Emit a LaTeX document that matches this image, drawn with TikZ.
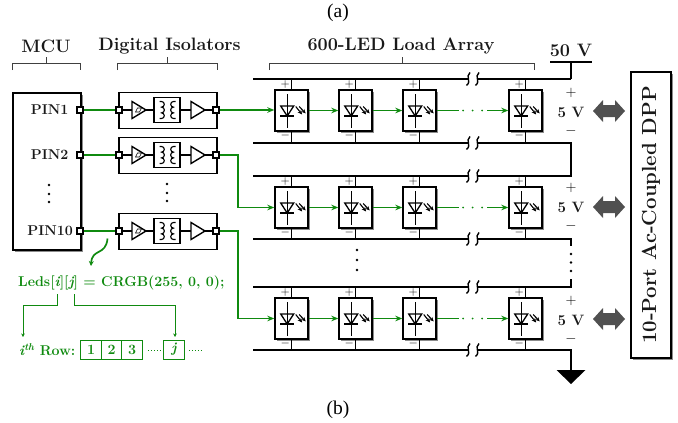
\documentclass[tikz,border=0pt]{standalone}
\usepackage{fontspec}
\newfontfamily\capfont{Liberation Serif}
\usetikzlibrary{arrows.meta,shadows,calc}
\definecolor{gr}{HTML}{0F8A0F}
\definecolor{darrow}{HTML}{505050}
\newcommand{\tsz}{\fontsize{18}{20}\selectfont\bfseries}
\newcommand{\ssz}{\fontsize{14.2}{16}\selectfont\bfseries}
\tikzset{
  x=1pt,y=-1pt,
  shadowbox/.style={draw=black,line width=1.8pt,fill=white,drop shadow={shadow xshift=1.8pt,shadow yshift=-1.8pt,opacity=.45,fill=black}},
  plainbox/.style={draw=black,line width=1.8pt,fill=white,inner sep=0pt},
  pinsq/.style={draw=black,line width=1.6pt,fill=white,minimum size=6.5pt,inner sep=0pt},
  ledbox/.style={shadowbox,minimum width=33pt,minimum height=41.5pt,inner sep=0pt},
  wire/.style={line width=1.4pt,black},
  gwire/.style={line width=1.7pt,gr},
  garrow/.style={gwire,-{Stealth[length=7pt,width=5.5pt]}},
  gthin/.style={line width=1pt,gr},
  gthinarrow/.style={gthin,-{Stealth[length=3.5pt,width=3.5pt]}},
  rail/.style={line width=2.2pt,black},
  brace/.style={line width=1pt,black!75},
  title/.style={font=\tsz,text=black!90,inner sep=0pt},
  pinlabel/.style={font=\ssz,text=black!90,inner sep=0pt},
  arrowbox/.style={draw=gr,line width=1pt,fill=white,minimum width=20.5pt,minimum height=19pt,inner sep=0pt,text=gr,font=\ssz},
  greentext/.style={text=gr,font=\ssz,inner sep=0pt},
  vmark/.style={font=\fontsize{15}{16}\selectfont,inner sep=0pt,text=black},
  capt/.style={font=\capfont\fontsize{19.5}{21}\selectfont,inner sep=0pt},
}
\newcommand{\isolator}[2]{% name, y pin
  \node[plainbox,minimum width=98pt,minimum height=36pt,anchor=west] (#1) at (118,#2+.5) {};
  \node[pinsq] (#1in) at (119,#2) {};
  \node[pinsq] (#1out) at (216,#2) {};
  \coordinate (#1ta) at (132,#2);
  \coordinate (#1tb) at (146,#2);
  \coordinate (#1tc) at (191,#2);
  \coordinate (#1td) at (205,#2);
  \node[plainbox,minimum width=26pt,minimum height=25pt] (#1tr) at (167,#2) {};
  \draw[wire,line join=miter] ($(#1ta)+(0,-8.5)$) -- (#1tb) -- ($(#1ta)+(0,8.5)$) -- cycle;
  \draw[wire,line join=miter] ($(#1tc)+(0,-8.5)$) -- (#1td) -- ($(#1tc)+(0,8.5)$) -- cycle;
  \draw[line width=.6pt] ($(#1ta)+(3.5,2)$) -- ++(4,0) -- ++(2,-4) -- ++(-4,0) -- cycle;
  \draw[wire] (#1in) -- (#1ta) (#1tb) -- (#1tr.west) (#1tr.east) -- (#1tc) (#1td) -- (#1out);
  \draw[line width=1.1pt] ($(#1tr)+(-7.5,-8.5)$) -- ++(2,0) arc[start angle=-90,end angle=90,radius=2.8] arc[start angle=-90,end angle=90,radius=2.9] arc[start angle=-90,end angle=90,radius=2.8] -- ++(-2,0);
  \draw[line width=1.1pt] ($(#1tr)+(8.5,-8.5)$) -- ++(-2,0) arc[start angle=270,end angle=90,radius=2.8] arc[start angle=270,end angle=90,radius=2.9] arc[start angle=270,end angle=90,radius=2.8] -- ++(2,0);
}
\newcommand{\led}[3]{% name, x, ycentre
  \node[ledbox] (#1) at (#2,#3) {};
  \begin{scope}[shift={(#2-4.5,#3)}]
    \draw[line width=1.3pt] (0,-16.5) -- (0,17);
    \draw[line width=1.3pt,line join=miter] (-6.5,-4.5) -- (6.5,-4.5) -- (0,5.5) -- cycle;
    \draw[line width=1.3pt] (-7,5.5) -- (7,5.5);
    \draw[line width=1.1pt,-{Stealth[length=4.5pt,width=4pt]}] (8.5,-4) -- (15,4);
    \draw[line width=1.1pt,-{Stealth[length=4.5pt,width=4pt]}] (12,-4) -- (18.5,3);
  \end{scope}
  \node[vmark,font=\fontsize{12.5}{13}\selectfont] at (#2-6.5,#3-26.5) {$+$};
  \node[vmark,font=\fontsize{12.5}{13}\selectfont] at (#2-6.5,#3+25) {$-$};
}
\newcommand{\railbreak}[1]{% y
  \fill[white] (468.5,#1-1.5) rectangle (476.5,#1+1.5);
  \draw[line width=1.4pt] (470,#1-6.5) .. controls (465,#1-2) and (472,#1+2) .. (466.5,#1+6.5);
  \draw[line width=1.4pt] (479,#1-6.5) .. controls (474,#1-2) and (481,#1+2) .. (475.5,#1+6.5);
}
\newcommand{\vstack}[2]{% x, y centre
  \node[vmark] at (#1,#2-18.5) {$+$};
  \node[font=\fontsize{15}{16}\selectfont\bfseries,text=black!90,inner sep=0pt] at (#1,#2+1) {5 V};
  \node[vmark] at (#1,#2+19.5) {$-$};
}
\begin{document}
\begin{tikzpicture}
\useasboundingbox (0,0) rectangle (678,423);
% captions
\node[capt] (capa) at (338,13) {(a)};
\node[capt] (capb) at (338,410) {(b)};
% titles
\node[title] (tmcu) at (46,46) {MCU};
\node[title] (tiso) at (169.5,46) {Digital Isolators};
\node[title] (tled) at (401,46) {600-LED Load Array};
\node[title] (t50) at (571,50) {50 V};
% brackets
\draw[brace] (12,70) -- (12,63) -- (80,63) -- (80,70) (46,63) -- (46,57);
\draw[brace] (117.5,70) -- (117.5,63) -- (217,63) -- (217,70) (167,63) -- (167,57);
\draw[brace] (269.5,70) -- (269.5,63) -- (534.5,63) -- (534.5,70) (402,63) -- (402,57);
% MCU
\node[shadowbox,minimum width=68pt,minimum height=157pt,anchor=north west,inner sep=0pt] (mcu) at (12,92) {};
\node[pinlabel,anchor=east] (p1) at (68.5,110) {PIN1};
\node[pinlabel,anchor=east] (p2) at (68.5,155) {PIN2};
\node[pinlabel,anchor=east] (p10) at (73,231) {PIN10};
\foreach \yy in {185,194,202}{\fill (49,\yy) circle[radius=1.3];}
\node[pinsq] (m1) at (80,110) {};
\node[pinsq] (m2) at (80,155) {};
\node[pinsq] (m3) at (80,231) {};
% isolators
\isolator{isoa}{110}
\isolator{isob}{155}
\isolator{isoc}{231}
\foreach \yy in {184,193,201}{\fill (167,\yy) circle[radius=1.3];}
\draw[gwire] (m1) -- (isoain);
\draw[gwire] (m2) -- (isobin);
\draw[gwire] (m3) -- (isocin);
% rails
\coordinate (r1a) at (253,79);
\coordinate (r1b) at (571,79);
\coordinate (r2a) at (253,143);
\coordinate (r2b) at (571,143);
\coordinate (r3a) at (253,176);
\coordinate (r3b) at (571,176);
\coordinate (r4a) at (253,239);
\coordinate (r4b) at (571,239);
\coordinate (r5a) at (253,287);
\coordinate (r5b) at (571,287);
\coordinate (r6a) at (253,350);
\coordinate (r6b) at (571,350);
\coordinate (v50) at (571,62);
\coordinate (gnd) at (571,371);
\draw[rail] (550,62) -- (592,62);
\draw[rail] (v50) -- (r1b);
\draw[rail] (r1a) -- (r1b);
\draw[rail,line join=miter] (r2a) -- (r2b) -- (r3b) -- (r3a);
\draw[rail] (r4a) -- (r4b) -- ++(0,7);
\draw[rail] (r5a) -- (r5b) -- ++(0,-8);
\draw[rail] (r6a) -- (r6b) -- (gnd);
\fill (556.5,370) -- (585.5,370) -- (571,384) -- cycle;
\foreach \yy in {254,262.5,271}{\fill (571,\yy) circle[radius=1.3];}
\foreach \yy in {250,260,270}{\fill (357,\yy) circle[radius=1.3];}
\foreach \yy in {79,143,176,239,287,350}{\railbreak{\yy}}
% LEDs
\foreach \r/\yy in {1/110.5,2/207.5,3/318.5}{
  \foreach \c/\xx in {1/291.7,2/355.7,3/419.7,4/525.7}{
    \draw[wire] (\xx,\yy-31) -- (\xx,\yy+32);
    \led{led\r\c}{\xx}{\yy}
  }
  \draw[garrow] (led\r1.east) -- (led\r2.west);
  \draw[garrow] (led\r2.east) -- (led\r3.west);
  \draw[gwire] (led\r3.east) -- ++(22,0);
  \fill[gr] (463,\yy) circle[radius=1] (472.5,\yy) circle[radius=1] (482,\yy) circle[radius=1];
  \draw[garrow] ($(led\r4.west)+(-21,0)$) -- (led\r4.west);
}
% green input lines
\draw[garrow] (isoaout) -- (isoaout -| led11.west);
\draw[garrow] (isobout) -- (238,155) -- (238,207.5) -- (led21.west);
\draw[garrow] (isocout) -- (238,231) -- (238,318.5) -- (led31.west);
% 5 V
\vstack{571}{111.5}
\vstack{571}{206.5}
\vstack{571}{319.5}
% double arrows
\foreach \yy in {111,207,319}{
  \fill[darrow] (593,\yy) -- (603,\yy-11) -- (603,\yy-6) -- (615,\yy-6) -- (615,\yy-11) -- (625,\yy) -- (615,\yy+11) -- (615,\yy+6) -- (603,\yy+6) -- (603,\yy+11) -- cycle;
}
% DPP
\node[shadowbox,minimum width=40pt,minimum height=286pt,inner sep=0pt] (dpp) at (651,215) {};
\node[title,rotate=90,font=\fontsize{20.4}{22}\selectfont\bfseries] (dpplab) at (651,215) {10-Port Ac-Coupled DPP};
% code
\node[greentext,anchor=west] (code) at (18,283) {Leds[{\itshape i}][{\itshape j}] = CRGB(255, 0, 0);};
\coordinate (ci) at (57,294);
\coordinate (cj) at (74,294);
\node[greentext,anchor=west] (row) at (19,350) {{\itshape i\textsuperscript{th}} Row:};
\node[arrowbox] (c1) at (91,349.5) {1};
\node[arrowbox] (c2) at (111.5,349.5) {2};
\node[arrowbox] (c3) at (132,349.5) {3};
\node[arrowbox] (cj4) at (174,349.5) {\itshape j};
\draw[gthin,dotted] (c3.east)++(5,1) -- ++(14,0);
\draw[gthin,dotted] (cj4.east)++(4,1) -- ++(14,0);
\coordinate (rowtop) at (23,337);
\coordinate (cjtop) at (175,337);
\draw[gthinarrow] (ci) -- (57,305) -- (23,305) -- (rowtop);
\draw[gthinarrow] (cj) -- (74,305) -- (175,305) -- (cjtop);
\coordinate (cura) at (107.5,238.5);
\coordinate (curb) at (91,266);
\draw[gwire,-{Stealth[length=5pt,width=5pt]}] (cura) .. controls (106,256) and (92,248) .. (curb);
\end{tikzpicture}
\end{document}
